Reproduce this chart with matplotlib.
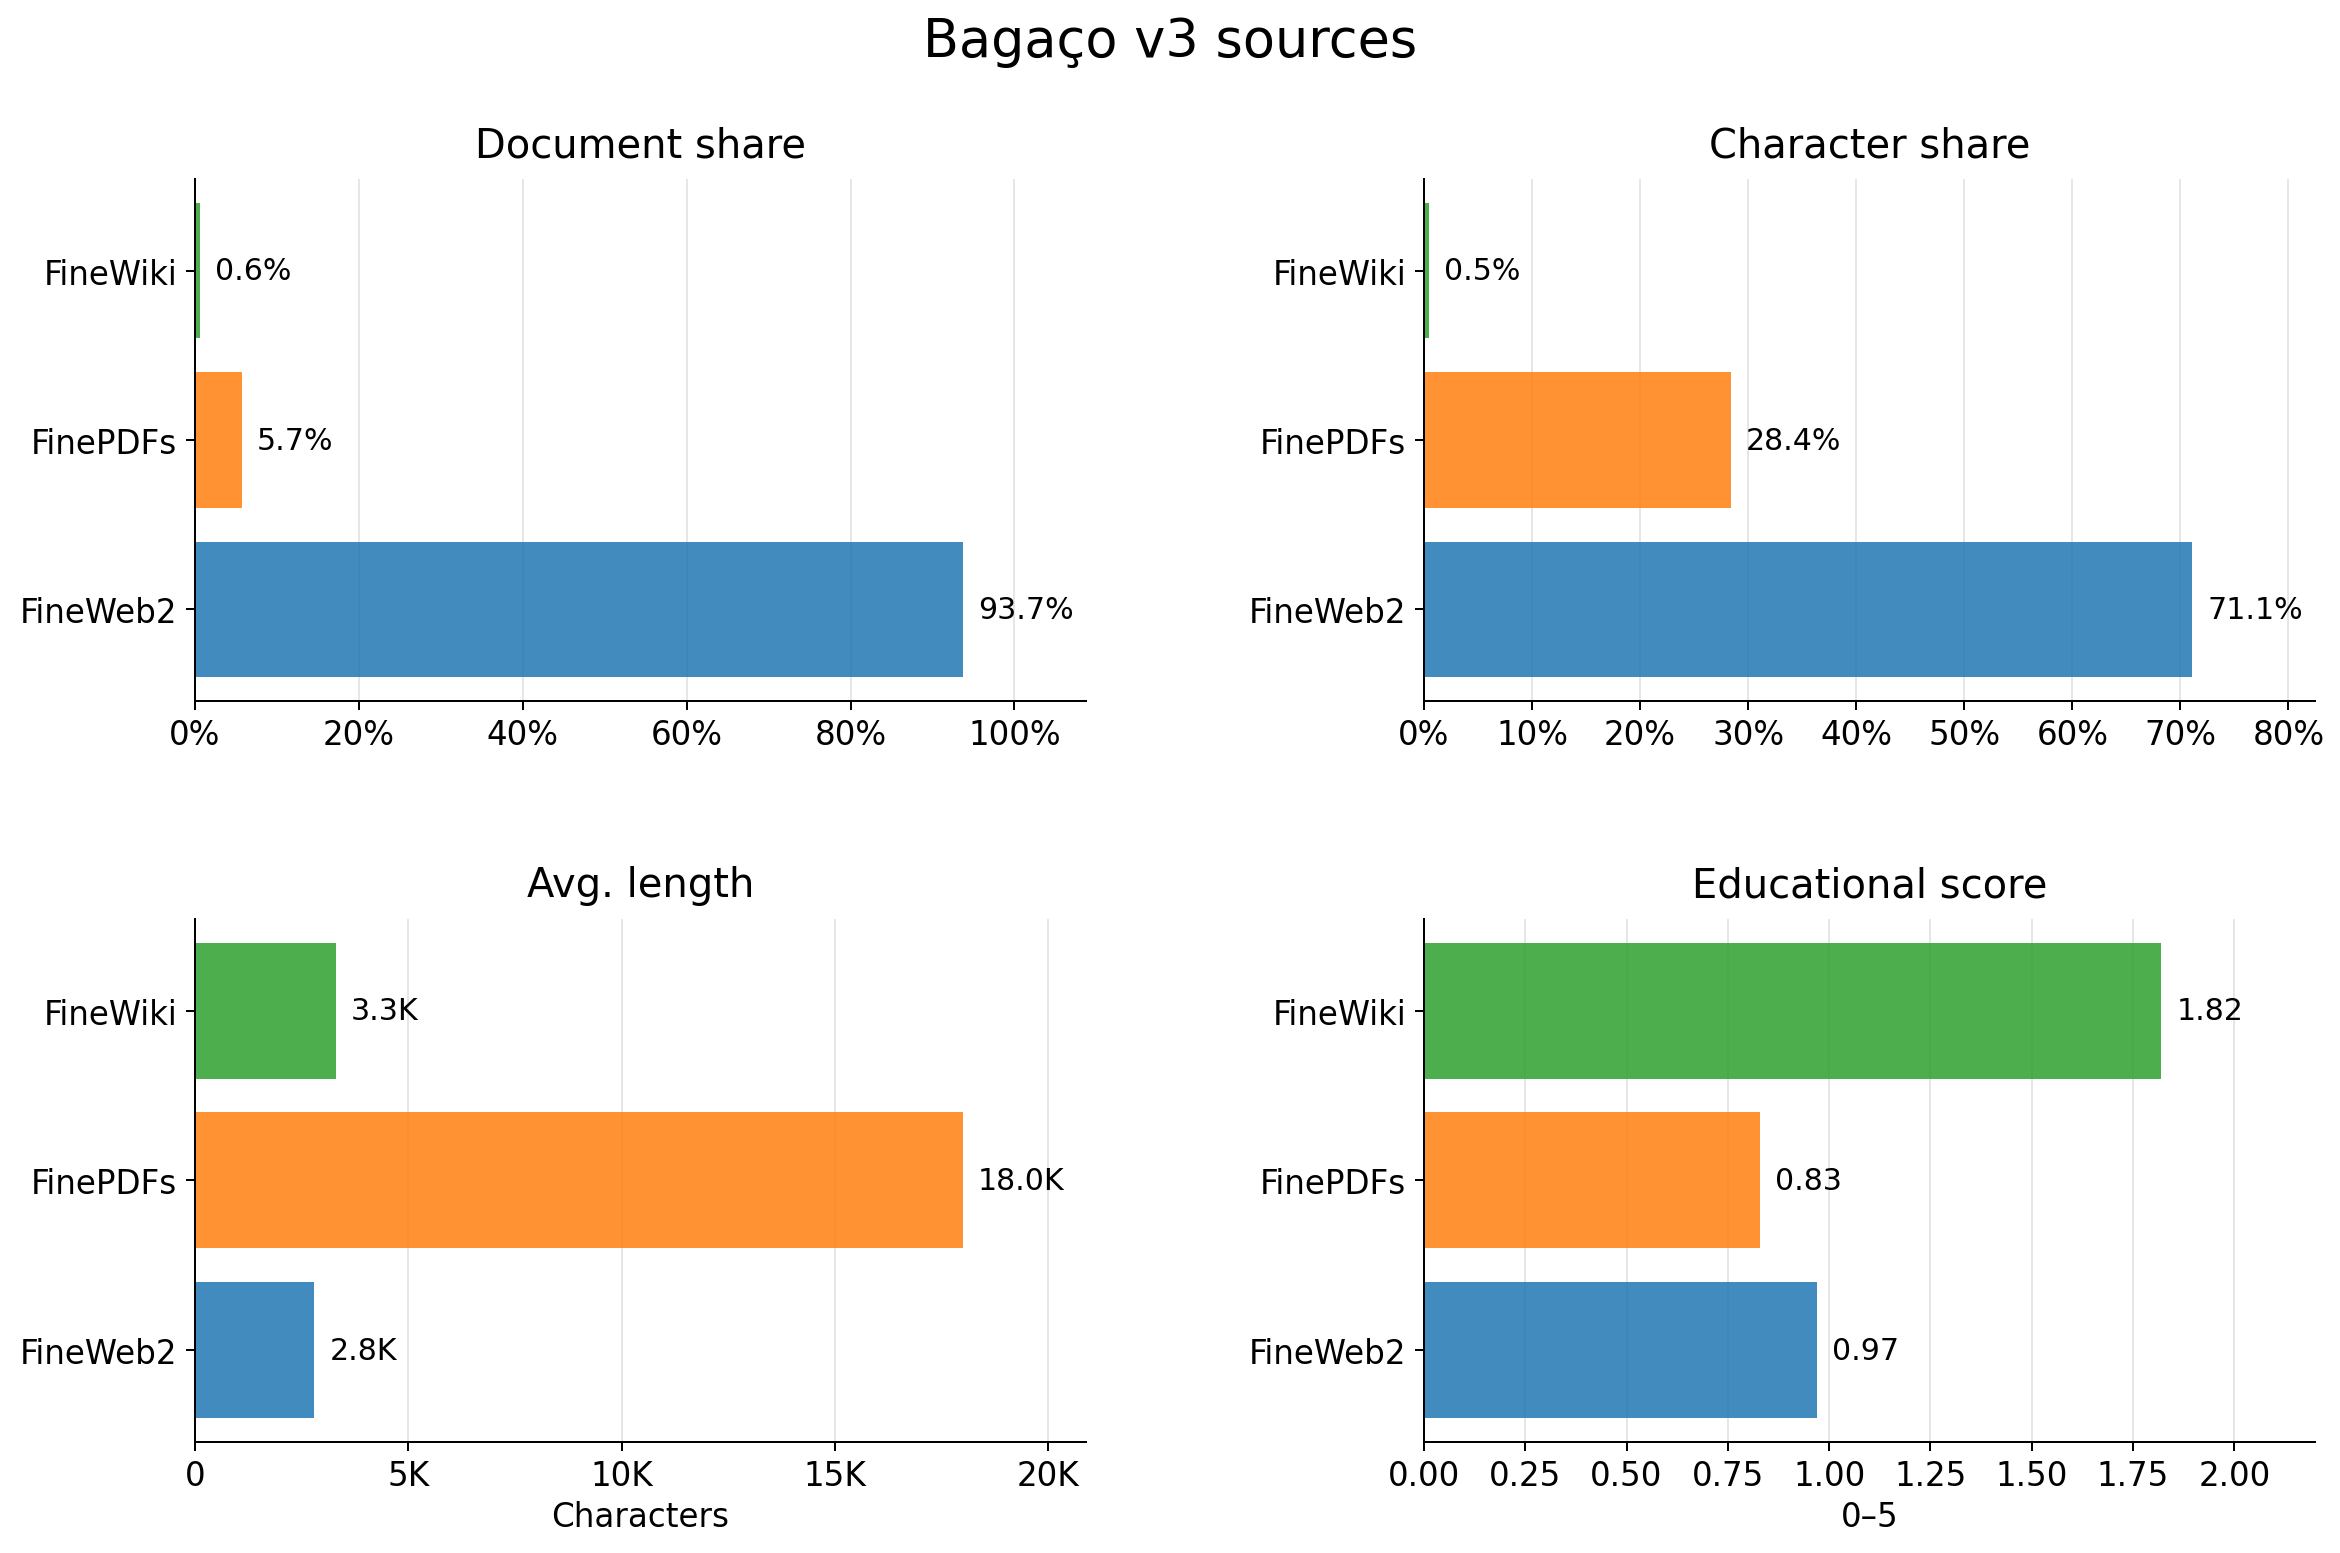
import matplotlib
matplotlib.use("Agg")
import matplotlib.pyplot as plt
from matplotlib.ticker import FuncFormatter

sources = ["FineWeb2", "FinePDFs", "FineWiki"]
colors = ["#1f77b4", "#ff7f0e", "#2ca02c"]

doc_share = [93.7, 5.7, 0.6]
char_share = [71.1, 28.4, 0.5]
avg_length = [2800, 18000, 3300]
edu_score = [0.97, 0.83, 1.82]

doc_labels = ["93.7%", "5.7%", "0.6%"]
char_labels = ["71.1%", "28.4%", "0.5%"]
len_labels = ["2.8K", "18.0K", "3.3K"]
edu_labels = ["0.97", "0.83", "1.82"]

fig = plt.figure(figsize=(13, 8.6333), dpi=180)
fig.suptitle("Bagaço v3 sources", fontsize=21, y=0.99, va="top")

L1, R1 = 0.0833, 0.464
L2, R2 = 0.6085, 0.9895
T1, B1 = 0.884, 0.5483
T2, B2 = 0.408, 0.0716

axes = [
    fig.add_axes([L1, B1, R1 - L1, T1 - B1]),
    fig.add_axes([L2, B1, R2 - L2, T1 - B1]),
    fig.add_axes([L1, B2, R1 - L1, T2 - B2]),
    fig.add_axes([L2, B2, R2 - L2, T2 - B2]),
]

panels = [
    ("Document share", doc_share, doc_labels, 108.7, FuncFormatter(lambda v, p: f"{v:.0f}%"), None, [0, 20, 40, 60, 80, 100]),
    ("Character share", char_share, char_labels, 82.5, FuncFormatter(lambda v, p: f"{v:.0f}%"), None, [0, 10, 20, 30, 40, 50, 60, 70, 80]),
    ("Avg. length", avg_length, len_labels, 20880, FuncFormatter(lambda v, p: "0" if v == 0 else f"{v/1000:.0f}K"), "Characters", [0, 5000, 10000, 15000, 20000]),
    ("Educational score", edu_score, edu_labels, 2.2, FuncFormatter(lambda v, p: f"{v:.2f}"), "0–5", [0, 0.25, 0.5, 0.75, 1.0, 1.25, 1.5, 1.75, 2.0]),
]

for ax, (title, vals, labs, xmax, fmt, xlabel, ticks) in zip(axes, panels):
    ax.set_axisbelow(True)
    ax.grid(axis="x", color="#e6e6e6", linewidth=0.8)
    bars = ax.barh(sources, vals, color=colors, alpha=0.85, height=0.8)
    for b, lab in zip(bars, labs):
        ax.annotate(lab, (b.get_width(), b.get_y() + b.get_height() / 2),
                    xytext=(6, 0), textcoords="offset points",
                    va="center", ha="left", fontsize=12)
    ax.set_xlim(0, xmax)
    ax.set_xticks(ticks)
    ax.xaxis.set_major_formatter(fmt)
    ax.set_title(title, fontsize=16, pad=9)
    if xlabel:
        ax.set_xlabel(xlabel, fontsize=13, labelpad=3)
    ax.tick_params(axis="both", labelsize=13)
    ax.spines["top"].set_visible(False)
    ax.spines["right"].set_visible(False)

fig.savefig("out.png", dpi=180)
